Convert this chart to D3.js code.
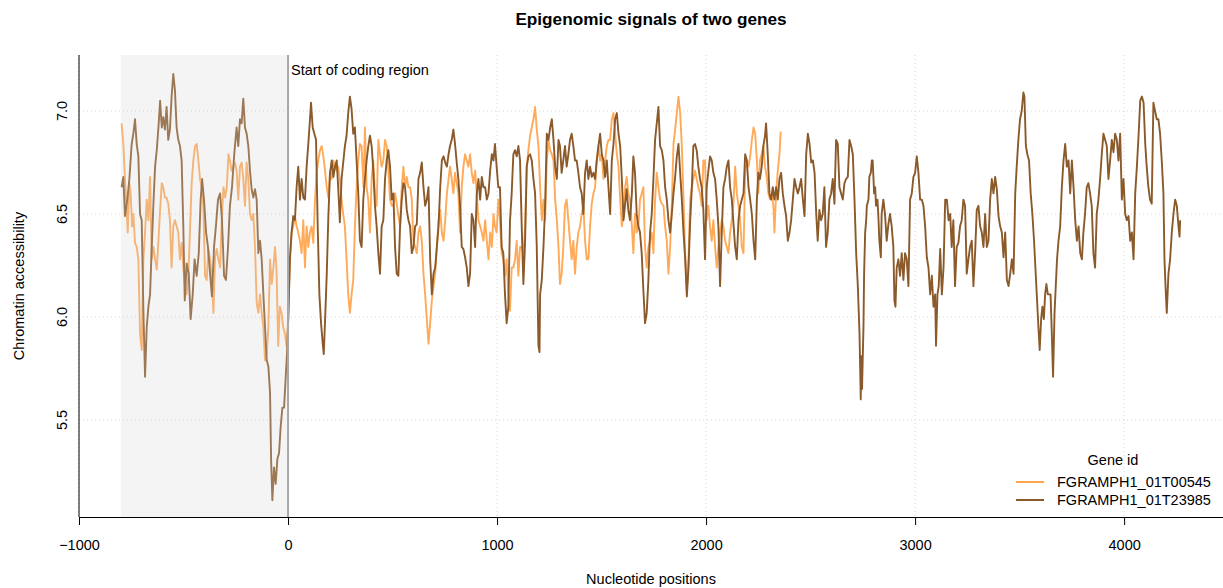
<!DOCTYPE html>
<html>
<head>
<meta charset="utf-8">
<script src="https://cdn.jsdelivr.net/npm/d3@7"></script>
<style>
  body { margin: 0; background: #fff; }
  text { font-family: "Liberation Sans", Arial, sans-serif; }
</style>
</head>
<body>
<svg id="chart" width="1223" height="588"></svg>
<script>
const geneIds = ["FGRAMPH1_01T00545", "FGRAMPH1_01T23985"];
const geneColors = ["#FFA54F", "#8B5A2B"];

// [nucleotide position, chromatin accessibility]
const signal00545 = [
  [-796,6.94],[-788,6.84],[-780,6.67],[-772,6.52],[-767,6.41],[-759,6.65],[-753,6.60],[-746,6.44],[-740,6.50],[-732,6.36],
  [-724,6.34],[-716,6.28],[-708,5.92],[-700,5.84],[-692,6.28],[-684,6.41],[-676,6.57],[-668,6.47],[-660,6.68],[-652,6.28],
  [-644,6.34],[-636,6.28],[-628,6.23],[-620,6.37],[-612,6.52],[-604,6.65],[-597,6.63],[-589,6.58],[-581,6.58],[-573,6.55],
  [-565,6.47],[-557,6.24],[-549,6.44],[-541,6.47],[-533,6.44],[-525,6.41],[-517,6.28],[-509,6.36],[-501,6.24],[-493,6.15],
  [-485,6.11],[-477,6.20],[-469,6.42],[-461,6.65],[-453,6.76],[-445,6.83],[-437,6.84],[-429,6.76],[-421,6.67],[-413,6.63],
  [-405,6.54],[-397,6.20],[-389,6.18],[-381,6.33],[-373,6.28],[-365,6.20],[-357,6.02],[-349,6.29],[-341,6.33],[-333,6.28],
  [-325,6.24],[-317,6.47],[-309,6.63],[-301,6.58],[-293,6.63],[-285,6.79],[-278,6.76],[-270,6.71],[-262,6.73],
  [-254,6.75],[-246,6.71],[-238,6.57],[-230,6.73],[-222,6.75],[-214,6.67],[-206,6.54],[-198,6.75],[-190,6.67],[-182,6.50],
  [-174,6.47],[-166,6.50],[-158,6.34],[-150,6.07],[-142,6.02],[-134,6.11],[-126,6.02],[-118,5.95],[-110,5.79],[-102,5.82],
  [-94,5.95],[-86,6.28],[-78,6.16],[-70,6.24],[-62,6.34],[-55,6.23],[-47,5.86],[-39,6.05],[-31,6.02],[-23,5.95],
  [-15,5.92],[-7,5.86],[1,5.99],[9,6.28],[17,6.41],[25,6.44],[33,6.49],[41,6.44],[49,6.41],[57,6.37],
  [65,6.31],[73,6.47],[81,6.24],[89,6.44],[97,6.34],[105,6.41],[113,6.44],[121,6.36],[129,6.57],[137,6.70],
  [145,6.76],[153,6.81],[161,6.83],[169,6.78],[177,6.71],[185,6.63],[193,6.58],[201,6.71],[209,6.67],[217,6.76],
  [225,6.73],[233,6.71],[240,6.73],[248,6.67],[256,6.57],[264,6.50],[272,6.44],[280,6.28],[288,6.11],[296,6.02],
  [304,6.11],[312,6.18],[320,6.44],[328,6.63],[336,6.76],[344,6.84],[352,6.83],
  [361,6.63],[368,6.92],[376,6.63],[384,6.57],[392,6.41],[400,6.67],[408,6.76],[416,6.60],[424,6.54],[432,6.86],
  [440,6.79],[448,6.73],[456,6.76],[464,6.86],[472,6.83],[480,6.71],[488,6.57],[496,6.54],[504,6.54],[512,6.60],
  [520,6.55],[528,6.49],[536,6.44],[544,6.63],[552,6.73],[560,6.63],[568,6.68],[576,6.63],[584,6.63],[592,6.57],
  [600,6.37],[608,6.34],[616,6.31],[624,6.41],[632,6.44],[640,6.37],[648,6.21],[656,6.11],[664,5.99],[672,5.87],
  [680,5.97],[688,6.08],[696,6.15],[704,6.21],[712,6.34],[720,6.47],[728,6.52],[736,6.41],[744,6.37],[752,6.47],
  [760,6.60],[768,6.67],[775,6.73],[783,6.67],[791,6.60],[799,6.70],[807,6.65],[815,6.60],[823,6.41],[831,6.63],
  [839,6.73],[847,6.79],[855,6.76],[863,6.73],[871,6.79],[879,6.70],[887,6.65],[895,6.71],[903,6.60],[911,6.47],
  [919,6.44],[927,6.41],[935,6.37],
  [943,6.47],[951,6.37],[959,6.28],[967,6.41],[975,6.34],[983,6.50],[990,6.44],[998,6.41],[1006,6.57],[1014,6.47],
  [1022,6.31],[1030,6.28],[1038,6.20],[1046,6.28],[1054,6.11],[1062,6.03],[1070,6.24],[1078,6.24],[1086,6.28],[1094,6.37],
  [1102,6.20],[1110,6.34],[1118,6.34],[1126,6.31],[1134,6.44],[1142,6.73],[1150,6.81],[1158,6.88],[1166,6.92],[1174,6.96],
  [1182,7.02],[1190,6.91],[1198,6.83],[1206,6.63],[1214,6.47],[1222,6.57],[1230,6.47],[1238,6.76],[1246,6.86],[1254,6.81],
  [1262,6.79],[1270,6.76],[1278,6.57],[1286,6.47],[1294,6.34],[1301,6.16],[1309,6.21],[1317,6.34],[1325,6.54],[1333,6.57],
  [1341,6.47],[1349,6.37],[1357,6.28],[1365,6.37],[1373,6.21],[1381,6.34],[1389,6.41],[1397,6.44],[1405,6.50],[1413,6.54],
  [1421,6.37],[1429,6.28],[1437,6.28],[1445,6.44],[1453,6.55],[1461,6.60],[1469,6.63],[1477,6.76],[1485,6.83],[1493,6.76],
  [1501,6.79],[1509,6.67],[1517,6.76],[1525,6.83],[1533,6.86],
  [1541,6.86],[1549,6.96],[1557,6.99],[1565,6.89],[1573,6.79],[1581,6.73],[1589,6.57],[1597,6.44],[1605,6.50],[1613,6.63],
  [1620,6.68],[1628,6.60],[1636,6.57],[1645,6.44],[1652,6.31],[1660,6.50],[1668,6.41],[1676,6.44],[1684,6.57],[1692,6.60],
  [1700,6.63],[1708,6.34],[1716,6.24],[1724,6.34],[1732,6.37],[1740,6.41],[1748,6.31],[1756,6.57],[1764,6.70],[1772,6.63],
  [1780,6.57],[1788,6.55],[1796,6.54],[1804,6.44],[1812,6.37],[1820,6.21],[1828,6.34],[1836,6.54],[1844,6.84],[1852,6.91],
  [1860,6.99],[1868,7.07],[1876,6.99],[1884,6.83],[1892,6.57],[1900,6.31],[1908,6.13],[1916,6.28],[1924,6.57],[1932,6.63],
  [1939,6.67],[1947,6.71],[1955,6.67],[1963,6.63],[1971,6.60],[1979,6.54],[1987,6.76],[1995,6.76],[2003,6.47],[2011,6.54],
  [2019,6.44],[2027,6.37],[2035,6.47],[2043,6.34],[2051,6.24],[2059,6.34],[2067,6.41],[2075,6.47],[2083,6.44],[2091,6.37],
  [2099,6.34],[2107,6.31],[2115,6.41],[2123,6.47],[2131,6.55],
  [2139,6.73],[2147,6.60],[2155,6.54],[2163,6.47],[2171,6.34],[2179,6.31],[2187,6.70],[2195,6.76],[2203,6.73],[2211,6.78],
  [2219,6.86],[2227,6.92],[2235,6.89],[2243,6.76],[2250,6.60],[2258,6.76],[2266,6.79],[2274,6.83],[2282,6.73],[2290,6.68],
  [2298,6.60],[2306,6.57],[2314,6.60],[2322,6.54],[2327,6.41],[2335,6.60],[2343,6.71],[2351,6.79],[2357,6.90]
];

const signal23985 = [
  [-796,6.63],[-788,6.68],[-780,6.49],[-769,6.57],[-759,6.67],[-748,6.84],[-740,6.89],[-732,6.96],[-724,6.84],[-716,6.78],
  [-708,6.50],[-700,6.47],[-692,6.03],[-684,5.71],[-676,5.95],[-668,6.05],[-660,6.11],[-652,6.34],[-644,6.55],[-636,6.73],
  [-628,6.81],[-620,6.92],[-612,7.05],[-604,6.92],[-597,6.97],[-589,6.91],[-581,7.02],[-573,6.86],[-565,6.91],[-557,7.07],
  [-549,7.18],[-541,7.10],[-533,6.92],[-525,6.86],[-517,6.83],[-509,6.76],[-501,6.44],[-494,6.08],[-485,6.26],[-475,6.21],
  [-466,5.99],[-456,6.11],[-447,6.28],[-437,6.20],[-427,6.31],[-418,6.57],[-411,6.67],[-402,6.57],[-392,6.41],[-383,6.34],
  [-373,6.21],[-364,6.10],[-354,6.34],[-345,6.44],[-335,6.57],[-325,6.60],[-316,6.47],[-306,6.20],[-297,6.18],[-287,6.34],
  [-278,6.54],[-268,6.63],[-258,6.78],
  [-254,6.83],[-246,6.92],[-238,6.83],[-230,6.96],[-222,6.94],[-214,7.06],[-206,6.92],[-198,6.89],[-190,6.83],[-182,6.71],
  [-174,6.62],[-166,6.58],[-158,6.62],[-150,6.57],[-142,6.31],[-134,6.37],[-126,6.28],[-118,6.11],[-110,5.95],[-102,5.79],
  [-94,5.76],[-86,5.63],[-81,5.31],[-75,5.11],[-67,5.27],[-59,5.19],[-51,5.31],[-43,5.34],[-35,5.47],[-27,5.56],
  [-19,5.56],[-11,5.71],[-5,5.82],[1,5.99],[9,6.28],[17,6.41],[25,6.49],[33,6.47],[41,6.63],[49,6.73],
  [57,6.57],[65,6.67],[73,6.58],[81,6.57],[89,6.73],[97,6.84],[105,6.96],[110,7.04],[118,6.92],[126,6.89],
  [134,6.86],[142,6.44],[150,6.11],[158,5.97],[166,5.87],[171,5.82],[177,5.98],[185,6.20],[193,6.49],[201,6.70],
  [209,6.76],[217,6.68],[225,6.73],[233,6.76],[240,6.63],[248,6.46],[256,6.67],[264,6.75],[272,6.83],[280,6.88],
  [288,6.99],[296,7.07],[304,7.01],[312,6.89],[320,6.92],[328,6.76],[336,6.60],[344,6.37],
  [352,6.34],[360,6.57],[368,6.67],[376,6.76],[384,6.83],[392,6.88],[400,6.83],[408,6.71],[416,6.54],[424,6.44],
  [432,6.31],[440,6.21],[448,6.44],[456,6.47],[464,6.67],[472,6.76],[480,6.81],[488,6.73],[496,6.57],[504,6.60],
  [512,6.34],[520,6.21],[528,6.20],[536,6.44],[544,6.57],[552,6.65],[560,6.63],[568,6.52],[576,6.47],[584,6.44],
  [592,6.31],[600,6.34],[608,6.44],[616,6.45],[624,6.67],[632,6.70],[640,6.75],[648,6.63],[656,6.54],[664,6.57],
  [672,6.63],[680,6.28],[688,6.11],[696,6.21],[704,6.24],[712,6.34],[720,6.44],[728,6.63],[736,6.76],[744,6.78],
  [752,6.75],[760,6.73],[768,6.79],[775,6.83],[783,6.86],[791,6.91],[799,6.84],[807,6.75],[815,6.67],[823,6.54],
  [831,6.34],[839,6.33],[847,6.29],[855,6.24],[863,6.15],[871,6.21],[879,6.50],[887,6.47],[895,6.34],[903,6.60],
  [911,6.67],[919,6.57],[927,6.68],[935,6.63],
  [943,6.63],[951,6.57],[959,6.60],[967,6.71],[975,6.79],[983,6.76],[990,6.84],[998,6.73],[1006,6.63],[1014,6.63],
  [1022,6.34],[1030,6.31],[1038,6.11],[1046,5.97],[1054,6.05],[1062,6.47],[1070,6.60],[1078,6.79],[1086,6.81],[1094,6.78],
  [1102,6.83],[1110,6.76],[1118,6.44],[1126,6.16],[1134,6.36],[1142,6.73],[1150,6.78],[1158,6.79],[1166,6.76],[1174,6.67],
  [1182,6.60],[1190,6.34],[1198,5.86],[1203,5.83],[1206,6.11],[1214,6.18],[1222,6.34],[1230,6.54],[1238,6.89],[1246,6.86],
  [1254,6.92],[1262,6.96],[1270,6.86],[1278,6.73],[1286,6.67],[1294,6.86],[1301,6.83],[1309,6.70],[1317,6.76],[1325,6.83],
  [1333,6.73],[1341,6.79],[1349,6.86],[1357,6.89],[1365,6.83],[1373,6.76],[1381,6.76],[1389,6.70],[1397,6.63],[1405,6.60],
  [1413,6.50],[1421,6.70],[1429,6.76],[1437,6.67],[1445,6.73],[1453,6.68],[1461,6.70],[1469,6.67],[1477,6.76],[1485,6.83],
  [1493,6.89],[1501,6.79],[1509,6.76],[1517,6.68],[1525,6.76],[1533,6.63],
  [1541,6.50],[1549,6.76],[1557,6.84],[1565,6.96],[1573,6.99],[1581,6.89],[1589,6.83],[1597,6.67],[1605,6.47],[1613,6.55],
  [1620,6.62],[1628,6.52],[1636,6.47],[1645,6.60],[1652,6.78],[1660,6.70],[1668,6.50],[1676,6.44],[1684,6.41],[1692,6.31],
  [1700,6.13],[1708,5.97],[1716,6.02],[1724,6.18],[1732,6.41],[1740,6.50],[1748,6.67],[1756,6.86],[1764,6.94],[1772,7.02],
  [1780,6.83],[1788,6.81],[1796,6.76],[1804,6.63],[1812,6.57],[1820,6.47],[1828,6.41],[1836,6.50],[1844,6.60],[1852,6.68],
  [1860,6.78],[1868,6.84],[1876,6.70],[1884,6.57],[1892,6.41],[1900,6.28],[1908,6.10],[1916,6.24],[1924,6.47],[1932,6.63],
  [1939,6.83],[1947,6.84],[1955,6.81],[1963,6.73],[1971,6.67],[1979,6.63],[1987,6.52],[1995,6.28],[2003,6.63],[2011,6.71],
  [2019,6.78],[2027,6.76],[2035,6.70],[2043,6.67],[2051,6.57],[2059,6.44],[2067,6.15],[2075,6.41],[2083,6.63],[2091,6.67],
  [2099,6.73],[2107,6.76],[2115,6.63],[2123,6.57],
  [2139,6.34],[2147,6.28],[2155,6.47],[2163,6.54],[2171,6.57],[2179,6.60],[2187,6.79],[2195,6.76],[2203,6.63],[2211,6.57],
  [2219,6.50],[2227,6.37],[2235,6.28],[2243,6.57],[2250,6.70],[2258,6.67],[2266,6.73],[2274,6.83],[2282,6.88],[2287,6.94],
  [2295,6.79],[2303,6.60],[2311,6.57],[2319,6.63],[2327,6.57],[2335,6.63],[2343,6.57],[2351,6.67],[2359,6.70],[2367,6.60],
  [2375,6.54],[2383,6.49],[2391,6.37],[2399,6.41],[2407,6.47],[2415,6.57],[2423,6.67],[2431,6.63],[2439,6.60],[2447,6.63],
  [2455,6.67],[2463,6.57],[2471,6.49],[2479,6.79],[2487,6.89],[2495,6.84],[2503,6.75],[2511,6.76],[2519,6.70],[2527,6.50],
  [2534,6.37],[2542,6.52],[2550,6.47],[2558,6.50],[2566,6.63],[2574,6.34],[2582,6.41],[2590,6.57],[2598,6.60],[2606,6.67],
  [2614,6.55],[2622,6.86],[2630,6.84],[2638,6.63],[2646,6.60],[2654,6.57],[2662,6.65],[2670,6.67],[2678,6.68],[2686,6.86],
  [2694,6.83],[2702,6.79],[2710,6.57],[2718,6.31],[2726,6.15],[2734,5.92],[2740,5.60],
  [2742,5.81],[2746,5.65],[2753,5.95],[2756,6.21],[2761,6.41],[2766,6.47],[2769,6.54],[2777,6.57],[2781,6.68],[2788,6.70],
  [2793,6.76],[2797,6.76],[2804,6.60],[2809,6.63],[2813,6.54],[2820,6.57],[2825,6.47],[2829,6.37],[2836,6.29],[2840,6.50],
  [2848,6.57],[2856,6.50],[2864,6.37],[2872,6.45],[2880,6.50],[2888,6.44],[2896,6.34],[2901,6.08],[2906,6.05],[2912,6.24],
  [2920,6.28],[2928,6.20],[2936,6.31],[2944,6.18],[2952,6.31],[2960,6.28],[2968,6.15],[2976,6.57],[2984,6.60],[2992,6.68],
  [3000,6.70],[3008,6.78],[3016,6.70],[3024,6.57],[3032,6.57],[3040,6.54],[3048,6.44],[3056,6.29],[3064,6.24],[3072,6.11],
  [3080,6.20],[3088,6.05],[3096,6.11],[3100,5.86],[3107,6.11],[3113,6.15],[3120,6.33],[3128,6.11],[3136,6.24],[3144,6.57],
  [3152,6.57],[3160,6.47],[3168,6.50],[3175,6.34],[3183,6.47],[3191,6.15],[3199,6.34],[3207,6.36],[3215,6.44],[3223,6.47],
  [3231,6.57],[3239,6.54],[3247,6.21],[3255,6.28],[3263,6.34],[3271,6.37],[3279,6.15],[3287,6.31],[3295,6.52],[3303,6.54],
  [3311,6.44],[3319,6.41],[3327,6.34],
  [3335,6.50],[3343,6.34],[3351,6.37],[3359,6.57],[3367,6.67],[3375,6.60],[3383,6.68],[3391,6.62],[3399,6.49],[3407,6.44],
  [3415,6.41],[3423,6.29],[3431,6.41],[3439,6.18],[3447,6.15],[3455,6.21],[3463,6.28],[3471,6.21],[3479,6.60],[3486,6.73],
  [3494,6.86],[3502,6.96],[3510,7.00],[3518,7.09],[3523,7.07],[3530,6.83],[3537,6.79],[3545,6.76],[3553,6.60],[3561,6.50],
  [3569,6.37],[3577,6.21],[3585,6.05],[3590,5.95],[3596,5.84],[3603,5.99],[3609,6.05],[3616,5.99],[3622,6.11],[3628,6.16],
  [3635,6.11],[3641,6.11],[3648,6.11],[3654,5.92],[3660,5.71],[3667,6.02],[3673,6.15],[3679,6.28],[3686,6.37],[3694,6.44],
  [3702,6.63],[3710,6.76],[3718,6.84],[3726,6.73],[3734,6.76],[3742,6.60],[3750,6.76],[3758,6.63],[3766,6.47],[3774,6.37],
  [3782,6.44],[3790,6.31],[3798,6.28],[3805,6.41],[3813,6.50],[3821,6.63],[3829,6.65],[3837,6.60],[3845,6.54],[3853,6.31],
  [3861,6.24],[3869,6.50],[3877,6.57],[3885,6.67],[3893,6.79],[3901,6.89],[3909,6.86],[3917,6.83],[3925,6.67],[3933,6.76],
  [3941,6.86],[3949,6.80],[3957,6.89],
  [3965,6.86],[3973,6.76],[3981,6.89],[3989,6.57],[3997,6.67],[4005,6.50],[4013,6.47],[4021,6.49],[4029,6.37],[4037,6.41],
  [4045,6.28],[4053,6.60],[4061,6.73],[4069,6.88],[4077,7.05],[4085,7.07],[4093,7.04],[4101,6.84],[4108,6.73],[4116,6.63],
  [4124,6.57],[4132,6.55],[4140,7.04],[4148,7.00],[4156,6.96],[4164,6.96],[4172,6.89],[4180,6.76],[4188,6.60],[4193,6.28],
  [4198,6.15],[4204,6.02],[4212,6.21],[4220,6.28],[4228,6.41],[4236,6.50],[4244,6.57],[4252,6.54],[4260,6.44],[4265,6.39],
  [4268,6.47]
];

const xTicks = [-1000, 0, 1000, 2000, 3000, 4000];
const yTicks = [5.5, 6.0, 6.5, 7.0];
const upstreamStart = -800;
const codingStart = 0;

const svg = d3.select('#chart');
const fontSize = '14.5px';

const x = d3.scaleLinear().domain([-1000, 4473]).range([79, 1223]);
const y = d3.scaleLinear().domain([5.029, 7.272]).range([517, 55]);
const plotTop = y.range()[1], plotBottom = y.range()[0];

// dotted grid
svg.append('g').selectAll('line')
    .data(yTicks).enter().append('line')
    .attr('x1', x.range()[0]).attr('x2', x.range()[1])
    .attr('y1', d => y(d)).attr('y2', d => y(d))
    .style('stroke', '#d6d6d6').style('stroke-dasharray', '1,3');

svg.append('g').selectAll('line')
    .data(xTicks).enter().append('line')
    .attr('x1', d => x(d)).attr('x2', d => x(d))
    .attr('y1', plotTop).attr('y2', plotBottom)
    .style('stroke', '#d6d6d6').style('stroke-dasharray', '1,3');

const line = d3.line()
    .x(d => x(d[0]))
    .y(d => y(d[1]));

[signal00545, signal23985].forEach((s, i) => {
    svg.append('path')
        .datum(s)
        .attr('d', line)
        .style('fill', 'none')
        .style('stroke', geneColors[i])
        .style('stroke-width', 1.9)
        .style('stroke-linejoin', 'round')
        .style('opacity', i === 0 ? 0.95 : 1);
});

// shaded upstream region, drawn over the lines
svg.append('rect')
    .attr('x', x(upstreamStart))
    .attr('y', plotTop)
    .attr('width', x(codingStart) - x(upstreamStart))
    .attr('height', plotBottom - plotTop)
    .style('fill', '#d3d3d3')
    .style('opacity', 0.25);

svg.append('line')
    .attr('x1', x(codingStart)).attr('x2', x(codingStart))
    .attr('y1', plotTop).attr('y2', plotBottom)
    .style('stroke', '#a8a8a8').style('stroke-width', 2);

svg.append('text')
    .attr('x', x(codingStart) + 3).attr('y', 75)
    .style('font-size', fontSize)
    .text('Start of coding region');

// axes
const xAxis = svg.append('g')
    .attr('transform', `translate(0,${plotBottom})`)
    .call(d3.axisBottom(x).tickValues(xTicks).tickSize(8).tickSizeOuter(0).tickPadding(15).tickFormat(d3.format('')));
xAxis.selectAll('text').style('font-size', fontSize).style('font-family', '"Liberation Sans", Arial, sans-serif').style('fill', '#000');
xAxis.selectAll('line, path').style('stroke', '#000');

svg.append('line')
    .attr('x1', x.range()[0]).attr('x2', x.range()[0])
    .attr('y1', plotTop).attr('y2', plotBottom)
    .style('stroke', '#000');

svg.append('g').selectAll('text')
    .data(yTicks).enter().append('text')
    .attr('transform', d => `translate(67,${y(d)}) rotate(-90)`)
    .attr('text-anchor', 'middle')
    .style('font-size', fontSize)
    .text(d => d.toFixed(1));

// titles
svg.append('text')
    .attr('x', 651).attr('y', 25)
    .attr('text-anchor', 'middle')
    .style('font-size', '17.2px').style('font-weight', 'bold')
    .text('Epigenomic signals of two genes');

svg.append('text')
    .attr('x', 651).attr('y', 584)
    .attr('text-anchor', 'middle')
    .style('font-size', fontSize)
    .text('Nucleotide positions');

svg.append('text')
    .attr('transform', `translate(24,${(plotTop + plotBottom) / 2}) rotate(-90)`)
    .attr('text-anchor', 'middle')
    .style('font-size', fontSize)
    .text('Chromatin accessibility');

// legend
const legend = svg.append('g').attr('transform', 'translate(1016,465)');
legend.append('text')
    .attr('x', 97).attr('y', 0)
    .attr('text-anchor', 'middle')
    .style('font-size', fontSize)
    .text('Gene id');

const item = legend.selectAll('g.item')
    .data(geneIds).enter().append('g')
    .attr('class', 'item')
    .attr('transform', (d, i) => `translate(0,${17 + i * 18})`);
item.append('line')
    .attr('x1', 0).attr('x2', 28)
    .style('stroke', (d, i) => geneColors[i])
    .style('stroke-width', 2);
item.append('text')
    .attr('x', 41).attr('y', 5)
    .style('font-size', fontSize)
    .text(d => d);
</script>
</body>
</html>
